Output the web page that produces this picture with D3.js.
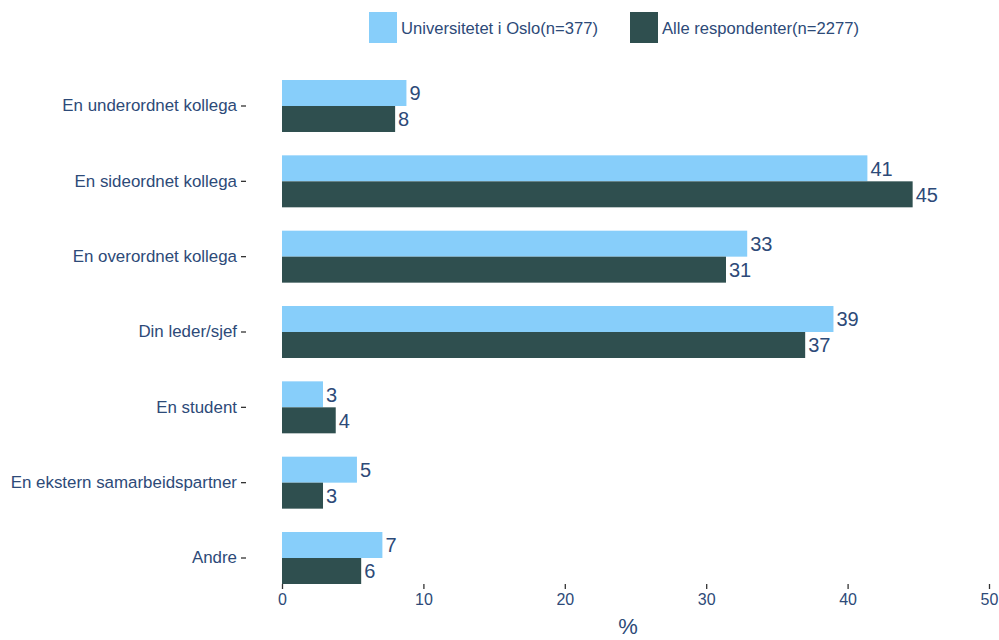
<!DOCTYPE html>
<html><head><meta charset="utf-8">
<script src="https://cdn.jsdelivr.net/npm/d3@7"></script>
<style>body{margin:0;background:#fff;}svg{display:block;font-family:"Liberation Sans",Arial,sans-serif;}</style>
</head><body><svg id="c" width="999" height="640"></svg>
<script>
const categories = ["En underordnet kollega","En sideordnet kollega","En overordnet kollega","Din leder/sjef","En student","En ekstern samarbeidspartner","Andre"];
const seriesNames = ["Universitetet i Oslo(n=377)","Alle respondenter(n=2277)"];
const uioValues = [8.8, 41.4, 32.9, 39.0, 2.9, 5.3, 7.1];
const allValues = [8.0, 44.6, 31.4, 37.0, 3.8, 2.9, 5.6];
const xTicks = [0,10,20,30,40,50];
const colors = ["#87CEFA","#2F4F4F"];
const textColor = "#2d4a78";

const svg = d3.select("#c");
const x = d3.scaleLinear().domain([0,50]).range([282,989]);
const y = d3.scaleBand().domain(categories).range([68.33,595.67]).paddingInner(0.31).paddingOuter(0.155);
const sub = d3.scaleBand().domain([0,1]).range([0,y.bandwidth()]);

const data = categories.map((c,i)=>({cat:c, vals:[uioValues[i], allValues[i]]}));

const g = svg.append("g");
data.forEach(d=>{
  d.vals.forEach((v,j)=>{
    g.append("rect").attr("x",x(0)).attr("y",y(d.cat)+sub(j))
      .attr("width",x(v)-x(0)).attr("height",sub.bandwidth()).attr("fill",colors[j]);
    g.append("text").attr("x",x(v)+3).attr("y",y(d.cat)+sub(j)+sub.bandwidth()/2)
      .attr("dy","0.36em").attr("font-size",20).attr("fill",textColor)
      .text(d3.format(".0f")(v));
  });
});

// y axis
const ya = svg.append("g").attr("transform","translate(246,0)")
  .call(d3.axisLeft(y).tickSize(5).tickPadding(4));
ya.select(".domain").remove();
ya.selectAll(".tick line").attr("stroke","#333").attr("stroke-width",1.3);
ya.selectAll(".tick text").attr("fill",textColor).attr("font-size",16.9).attr("font-family","Liberation Sans, Arial, sans-serif");

// x axis
const xa = svg.append("g").attr("transform","translate(0,584)")
  .call(d3.axisBottom(x).tickValues(xTicks).tickSize(5).tickPadding(5));
xa.select(".domain").remove();
xa.selectAll(".tick line").attr("stroke","#333").attr("stroke-width",1.3);
xa.selectAll(".tick text").attr("fill",textColor).attr("font-size",16).attr("font-family","Liberation Sans, Arial, sans-serif");

svg.append("text").attr("x",628).attr("y",634).attr("text-anchor","middle")
  .attr("font-size",22).attr("fill",textColor).text("%");

// legend
const legX = [369,630];
seriesNames.forEach((s,i)=>{
  svg.append("rect").attr("x",legX[i]).attr("y",12).attr("width",28).attr("height",31).attr("fill",colors[i]);
  svg.append("text").attr("x",legX[i]+32).attr("y",28).attr("dy","0.36em")
    .attr("font-size",16.6).attr("fill",textColor).text(s);
});
</script></body></html>
